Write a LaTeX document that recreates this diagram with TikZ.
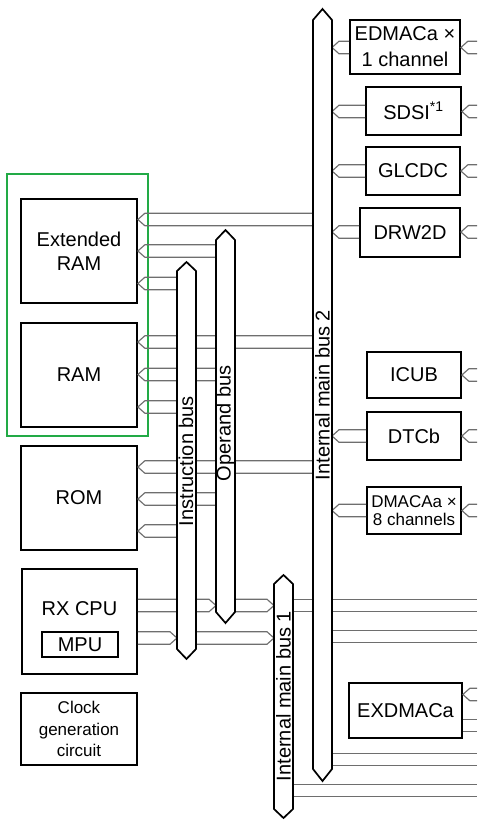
\documentclass[tikz,border=0pt]{standalone}
\usepackage{fontspec}
\setmainfont{Liberation Sans}
\usepackage{xcolor}
\usepackage{tikz}
\usetikzlibrary{calc}

\definecolor{grpgreen}{RGB}{34,170,70}
\definecolor{wiregray}{RGB}{110,110,110}

% pair of wires ending in a chevron at #1, coming from #2, centred on y=#3
\newcommand{\chevleft}[3]{%
  \draw[wire] ($(#2|-0,#3)+(0,-6.25)$) -- ($(#1|-0,#3)+(7,-6.25)$) -- (#1|-0,#3)
    -- ($(#1|-0,#3)+(7,6.25)$) -- ($(#2|-0,#3)+(0,6.25)$);}
% pair of wires from #1 ending in a chevron at #2
\newcommand{\chevright}[3]{%
  \draw[wire] ($(#1|-0,#3)+(0,-6.25)$) -- ($(#2|-0,#3)+(-7,-6.25)$) -- (#2|-0,#3)
    -- ($(#2|-0,#3)+(-7,6.25)$) -- ($(#1|-0,#3)+(0,6.25)$);}
% plain pair of wires
\newcommand{\wirepair}[3]{%
  \draw[wire] ($(#1|-0,#3)+(0,-6.25)$) -- ($(#2|-0,#3)+(0,-6.25)$)
    ($(#1|-0,#3)+(0,6.25)$) -- ($(#2|-0,#3)+(0,6.25)$);}

\begin{document}
\begin{tikzpicture}[x=1pt,y=-1pt,
  blk/.style={draw, line width=1.7pt, inner sep=0pt, align=center,
    font=\fontsize{20}{24}\selectfont},
  wire/.style={draw=wiregray, line width=1.15pt},
  bus/.style={draw, fill=white, line width=1.7pt},
  buslbl/.style={rotate=90, inner sep=0pt, font=\fontsize{20}{24}\selectfont},
  grp/.style={draw=grpgreen, line width=2.4pt}]

  \useasboundingbox (0,0) rectangle (497,840);

  % Bus edges
  \coordinate (ibL) at (177,0);
  \coordinate (ibR) at (196,0);
  \coordinate (obL) at (216,0);
  \coordinate (obR) at (235,0);
  \coordinate (mb1L) at (274,0);
  \coordinate (mb1R) at (293,0);
  \coordinate (mb2L) at (313,0);
  \coordinate (mb2R) at (332,0);
  \coordinate (edge) at (477,0);

  % Memory group
  \draw[grp] (7,174) rectangle (148,436);

  % Left column
  \node[blk, minimum width=116pt, minimum height=104pt] (eram) at (79,251) {Extended\\RAM};
  \node[blk, minimum width=116pt, minimum height=104pt] (ram) at (79,375) {RAM};
  \node[blk, minimum width=116pt, minimum height=104pt] (rom) at (79,498) {ROM};
  \node[blk, minimum width=115pt, minimum height=105pt] (cpu) at (79.5,621.5) {};
  \node[inner sep=0pt, font=\fontsize{20}{24}\selectfont] (cpulbl) at (79.5,609) {RX CPU};
  \node[blk, minimum width=76pt, minimum height=25pt] (mpu) at (80,644.5) {MPU};
  \node[blk, minimum width=116pt, minimum height=72pt,
    font=\fontsize{17}{21.5}\selectfont] (clk) at (79,729) {Clock\\generation\\circuit};

  % Right column
  \node[blk, minimum width=110pt, minimum height=54pt,
    font=\fontsize{20}{26}\selectfont] (edmac) at (405,47) {EDMACa ×\\1 channel};
  \node[blk, minimum width=95pt, minimum height=48pt] (sdsi) at (413.5,111) {SDSI\textsuperscript{*1}};
  \node[blk, minimum width=94pt, minimum height=48pt] (glcdc) at (413,171) {GLCDC};
  \node[blk, minimum width=100pt, minimum height=49pt] (drw) at (410,232.5) {DRW2D};
  \node[blk, minimum width=94pt, minimum height=46pt] (icub) at (414,375) {ICUB};
  \node[blk, minimum width=94pt, minimum height=48pt] (dtc) at (414,436) {DTCb};
  \node[blk, minimum width=94pt, minimum height=47pt,
    font=\fontsize{17}{18.5}\selectfont] (dmac) at (414,510.5) {DMACAa ×\\8 channels};
  \node[blk, minimum width=113pt, minimum height=55pt] (exdmac) at (405.5,710.5) {EXDMACa};

  % Memories to buses
  \foreach \m/\ya/\yb/\yc in {eram/219.5/251/283.5, ram/342/374.5/407, rom/467/499/531} {
    \chevleft{\m.east}{mb2L}{\ya}
    \chevleft{\m.east}{obL}{\yb}
    \chevleft{\m.east}{ibL}{\yc}
  }

  % CPU to buses
  \chevright{cpu.east}{obL}{605.5}
  \chevright{obR}{mb1L}{605.5}
  \chevright{cpu.east}{ibL}{638}
  \chevright{ibR}{mb1L}{638}

  % Main buses outwards
  \wirepair{mb1R}{edge}{605.5}
  \wirepair{mb2R}{edge}{636.5}
  \wirepair{mb2R}{edge}{759.5}
  \wirepair{mb1R}{edge}{790.5}

  % Peripherals
  \foreach \p/\y in {edmac/47.5, sdsi/111.5, glcdc/171, drw/232, dtc/436, dmac/510.5} {
    \chevleft{mb2R}{\p.west}{\y}
  }
  \foreach \p/\y in {edmac/47.5, sdsi/111.5, glcdc/171, drw/232, icub/375, dtc/436, dmac/510.5, exdmac/694.5} {
    \chevleft{\p.east}{edge}{\y}
  }
  \wirepair{exdmac.east}{edge}{725.5}

  % Buses
  \draw[bus] (177,271) -- (186.5,262) -- (196,271) -- (196,649) -- (186.5,659) -- (177,649) -- cycle;
  \draw[bus] (216,240) -- (225.5,230) -- (235,240) -- (235,612) -- (225.5,623) -- (216,612) -- cycle;
  \draw[bus] (274,584) -- (283.5,575) -- (293,584) -- (293,809) -- (283.5,818) -- (274,809) -- cycle;
  \draw[bus] (313,20) -- (322.5,9) -- (332,20) -- (332,769) -- (322.5,781) -- (313,769) -- cycle;

  % Bus labels
  \node[buslbl] (iblbl) at (186,461) {Instruction bus};
  \node[buslbl] (oblbl) at (225.5,423.5) {Operand bus};
  \node[buslbl] (mb1lbl) at (283.5,696) {Internal main bus 1};
  \node[buslbl] (mb2lbl) at (322.5,395) {Internal main bus 2};
\end{tikzpicture}
\end{document}
